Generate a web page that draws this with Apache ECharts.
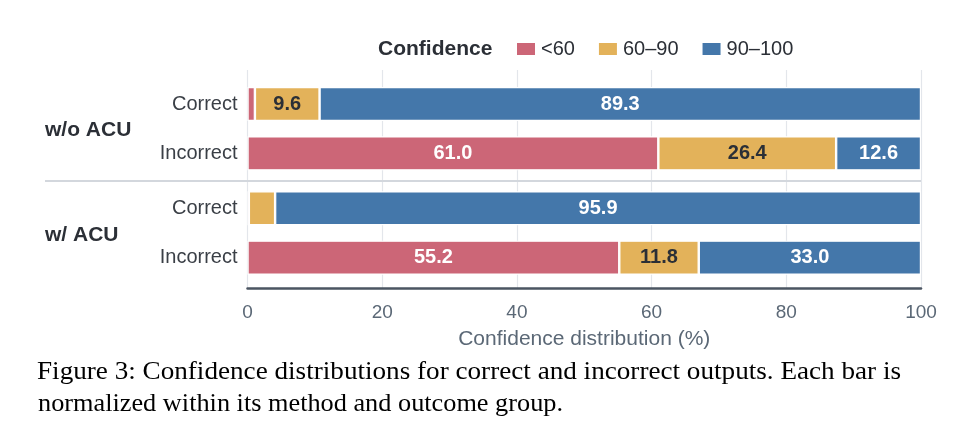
<!DOCTYPE html>
<html>
<head>
<meta charset="utf-8">
<script src="https://cdn.jsdelivr.net/npm/echarts@6/dist/echarts.min.js"></script>
<style>
html,body{margin:0;padding:0;background:#fff;}
#c{width:975px;height:441px;}
</style>
</head>
<body>
<div id="c"></div>
<script>
// ---- data ----
const groups = ['w/o ACU', 'w/ ACU'];
const outcomes = ['Correct', 'Incorrect'];
const buckets = ['<60', '60–90', '90–100'];
const woLow  = [1.1, 61.0];
const woMid  = [9.6, 26.4];
const woHigh = [89.3, 12.6];
const wLow   = [0.2, 55.2];
const wMid   = [3.9, 11.8];
const wHigh  = [95.9, 33.0];
const xMin = 0, xMax = 100, xStep = 20;
const captionLines = [
  'Figure 3: Confidence distributions for correct and incorrect outputs. Each bar is',
  'normalized within its method and outcome group.'
];

// ---- style ----
const colors = ['#CC6677', '#E3B25A', '#4477AA'];
const labelColors = ['#ffffff', '#2b2f36', '#ffffff'];
const FONT = '"Liberation Sans", Arial, sans-serif';
const SERIF = '25px "Liberation Serif", "Times New Roman", serif';
const gridL = 247.5, gridR = 54;
const captionWidths = [864, 525];

// caption horizontal fit
const mctx = document.createElement('canvas').getContext('2d');
mctx.font = SERIF;
const capScale = captionLines.map((t, i) => captionWidths[i] / mctx.measureText(t).width);

const chart = echarts.init(document.getElementById('c'), null, {renderer: 'canvas'});

function makeSeries(name, data, idx, axisIdx) {
  return {
    name: name,
    type: 'bar',
    stack: 'g' + axisIdx,
    xAxisIndex: axisIdx,
    yAxisIndex: axisIdx,
    data: data,
    barWidth: 34,
    itemStyle: {color: colors[idx], borderColor: '#ffffff', borderWidth: 1.2},
    label: {
      show: true,
      position: 'inside',
      fontFamily: FONT,
      fontSize: 20,
      fontWeight: 'bold',
      color: labelColors[idx],
      formatter: p => (p.value >= 5 ? p.value.toFixed(1) : '')
    },
    emphasis: {disabled: true},
    animation: false
  };
}

const catAxis = (gi) => ({
  gridIndex: gi,
  type: 'category',
  data: outcomes,
  inverse: true,
  axisLine: {show: false},
  axisTick: {show: false},
  splitLine: {show: false},
  axisLabel: {fontFamily: FONT, fontSize: 20, color: '#3a3f46', margin: 10}
});

const hiddenX = (gi) => ({
  gridIndex: gi, type: 'value', min: xMin, max: xMax, show: false
});

const option = {
  animation: false,
  backgroundColor: '#ffffff',
  textStyle: {fontFamily: FONT},
  legend: {
    data: buckets,
    left: 510,
    top: 34,
    itemWidth: 20,
    itemHeight: 14,
    itemGap: 22,
    icon: 'rect',
    selectedMode: false,
    textStyle: {fontFamily: FONT, fontSize: 20, color: '#2b2f36'}
  },
  grid: [
    {left: gridL, right: gridR, top: 70, height: 218},
    {left: gridL, right: gridR, top: 79.35, height: 98.65},
    {left: gridL, right: gridR, top: 183.65, height: 98.65}
  ],
  xAxis: [
    {
      gridIndex: 0,
      type: 'value',
      min: xMin, max: xMax, interval: xStep,
      axisLine: {show: true, onZero: false, lineStyle: {color: '#4b5562', width: 2.5}},
      axisTick: {show: false},
      splitLine: {show: true, lineStyle: {color: '#e3e6eb', width: 1.2}},
      axisLabel: {fontFamily: FONT, fontSize: 19, color: '#5b6876', margin: 15},
      name: 'Confidence distribution (%)',
      nameLocation: 'middle',
      nameGap: 41,
      nameTextStyle: {fontFamily: FONT, fontSize: 21, color: '#5b6876'}
    },
    hiddenX(1),
    hiddenX(2)
  ],
  yAxis: [
    {gridIndex: 0, type: 'value', show: false},
    catAxis(1),
    catAxis(2)
  ],
  series: [
    makeSeries(buckets[0], woLow, 0, 1),
    makeSeries(buckets[1], woMid, 1, 1),
    makeSeries(buckets[2], woHigh, 2, 1),
    makeSeries(buckets[0], wLow, 0, 2),
    makeSeries(buckets[1], wMid, 1, 2),
    makeSeries(buckets[2], wHigh, 2, 2)
  ],
  graphic: [
    {type: 'text', left: 378, top: 39, style: {text: 'Confidence', font: 'bold 21px ' + FONT, fill: '#2b2f36'}},
    {type: 'text', left: 45, top: 120, style: {text: groups[0], font: 'bold 21px ' + FONT, fill: '#2b2f36'}},
    {type: 'text', left: 45, top: 225, style: {text: groups[1], font: 'bold 21px ' + FONT, fill: '#2b2f36'}},
    {type: 'line', shape: {x1: 45, y1: 181, x2: 921, y2: 181}, style: {stroke: '#d3d7dd', lineWidth: 2}, z: 1},
    {type: 'text', x: 37, y: 372.5, scaleX: capScale[0],
     style: {text: captionLines[0], font: SERIF, fill: '#000', align: 'left', verticalAlign: 'middle'}},
    {type: 'text', x: 38, y: 404, scaleX: capScale[1],
     style: {text: captionLines[1], font: SERIF, fill: '#000', align: 'left', verticalAlign: 'middle'}}
  ]
};

chart.setOption(option);
</script>
</body>
</html>
